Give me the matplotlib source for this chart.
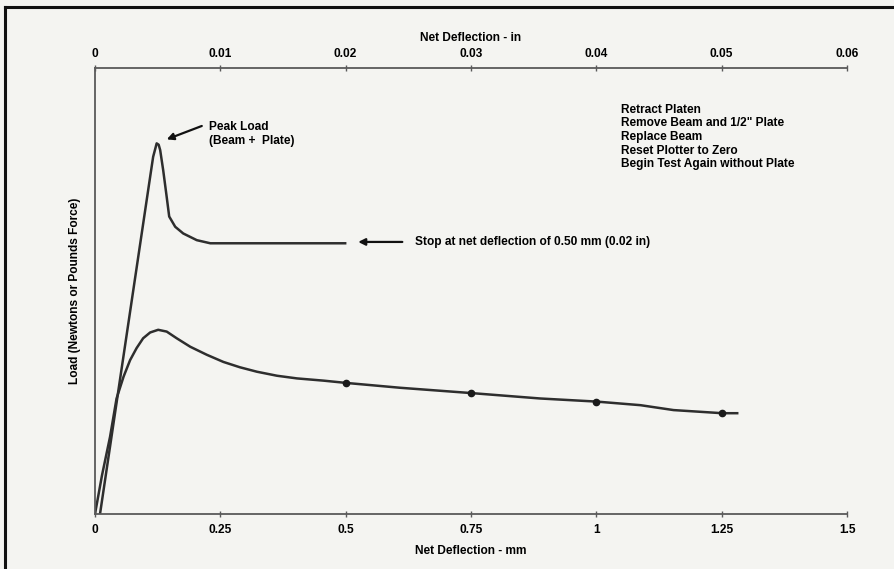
import matplotlib
matplotlib.use("Agg")
import matplotlib.pyplot as plt
from matplotlib.lines import Line2D

plt.rcParams['font.family'] = ['Liberation Sans', 'DejaVu Sans']
plt.rcParams['font.weight'] = 'bold'

# Beam + 1/2" plate (first test, stopped at 0.50 mm)
plate_x = [0.010, 0.060, 0.110, 0.116, 0.120, 0.123, 0.127, 0.130, 0.136, 0.143,
           0.148, 0.160, 0.176, 0.203, 0.230, 0.300, 0.400, 0.499]
plate_y = [0.0, 37.8, 75.6, 80.1, 81.8, 83.1, 82.8, 81.6, 77.1, 71.1,
           66.7, 64.4, 62.9, 61.4, 60.7, 60.7, 60.7, 60.7]

# Beam only (second test)
beam_x = [0.0, 0.014, 0.030, 0.043, 0.057, 0.070, 0.083, 0.096, 0.110, 0.126,
          0.143, 0.163, 0.190, 0.223, 0.256, 0.289, 0.323, 0.363, 0.403, 0.456,
          0.500, 0.609, 0.752, 0.888, 1.001, 1.088, 1.154, 1.251, 1.281]
beam_y = [0.0, 8.7, 17.3, 25.9, 30.8, 34.5, 37.2, 39.4, 40.7, 41.3,
          40.9, 39.4, 37.5, 35.7, 34.1, 32.9, 31.9, 31.0, 30.4, 29.9,
          29.4, 28.3, 27.1, 25.9, 25.2, 24.4, 23.3, 22.6, 22.6]

# marked points on the beam-only curve
dot_x = [0.50, 0.75, 1.00, 1.25]
dot_y = [29.4, 27.1, 25.2, 22.6]

mm_ticks = [0, 0.25, 0.5, 0.75, 1.0, 1.25, 1.5]
mm_labels = ["0", "0.25", "0.5", "0.75", "1", "1.25", "1.5"]
in_ticks = [0, 0.01, 0.02, 0.03, 0.04, 0.05, 0.06]
in_labels = ["0", "0.01", "0.02", "0.03", "0.04", "0.05", "0.06"]

steps = ["Retract Platen",
         "Remove Beam and 1/2\" Plate",
         "Replace Beam",
         "Reset Plotter to Zero",
         "Begin Test Again without Plate"]

paper = '#f4f4f1'
ink = '#2e2e2e'
axis_c = '#5a5a5a'
fs = 8.6

fig = plt.figure(figsize=(8.94, 5.69), dpi=100, facecolor=paper)
ax = fig.add_axes([95 / 894, 1 - 514 / 569, (847 - 95) / 894, (514 - 68) / 569])
ax.set_facecolor('none')

ax.plot(plate_x, plate_y, color=ink, lw=1.8, solid_joinstyle='round')
ax.plot(beam_x, beam_y, color=ink, lw=1.8, solid_joinstyle='round')
ax.plot(dot_x, dot_y, 'o', color='#1a1a1a', ms=4.5)

ax.set_xlim(0, 1.5)
ax.set_ylim(0, 100)
ax.set_xticks(mm_ticks)
ax.set_xticklabels(mm_labels, fontsize=fs, fontweight='bold')
ax.set_yticks([])
ax.tick_params(axis='x', direction='inout', length=5, width=1, color=axis_c, pad=5)
for s in ['right', 'top']:
    ax.spines[s].set_visible(False)
for s in ['left', 'bottom']:
    ax.spines[s].set_color(axis_c)
    ax.spines[s].set_linewidth(1.3)
ax.set_xlabel("Net Deflection - mm", fontsize=fs, fontweight='bold', labelpad=6)
ax.set_ylabel("Load (Newtons or Pounds Force)", fontsize=fs, fontweight='bold', labelpad=10)

ax2 = ax.twiny()
ax2.set_xlim(0, 0.06)
ax2.set_xticks(in_ticks)
ax2.set_xticklabels(in_labels, fontsize=fs, fontweight='bold')
ax2.tick_params(axis='x', direction='inout', length=5, width=1, color=axis_c, pad=3)
for s in ['right', 'left', 'bottom']:
    ax2.spines[s].set_visible(False)
ax2.spines['top'].set_color(axis_c)
ax2.spines['top'].set_linewidth(1.3)
ax2.set_xlabel("Net Deflection - in", fontsize=fs, fontweight='bold', labelpad=5)

# annotations
arrow = dict(arrowstyle='-|>', color='#111111', lw=1.6, mutation_scale=10,
             shrinkA=0, shrinkB=0)
ax.annotate("", xy=(0.143, 84.0), xytext=(0.213, 87.0), arrowprops=arrow)
ax.text(0.2275, 85.2, "Peak Load\n(Beam +  Plate)", fontsize=fs, fontweight='bold',
        va='center', ha='left', linespacing=1.25)
ax.annotate("", xy=(0.525, 61.0), xytext=(0.613, 61.0), arrowprops=arrow)
ax.text(0.639, 61.0, "Stop at net deflection of 0.50 mm (0.02 in)", fontsize=fs,
        fontweight='bold', va='center', ha='left')
ax.text(1.050, 92.0, "\n".join(steps), fontsize=fs, fontweight='bold',
        va='top', ha='left', linespacing=1.18)

# scanned page frame
fig.add_artist(Line2D([5 / 894, 5 / 894], [0, 1 - 7 / 569], color='#111111', lw=2.2))
fig.add_artist(Line2D([5 / 894, 1], [1 - 7 / 569, 1 - 7 / 569], color='#111111', lw=2.2))

fig.savefig("out.png", dpi=100, facecolor=paper)
